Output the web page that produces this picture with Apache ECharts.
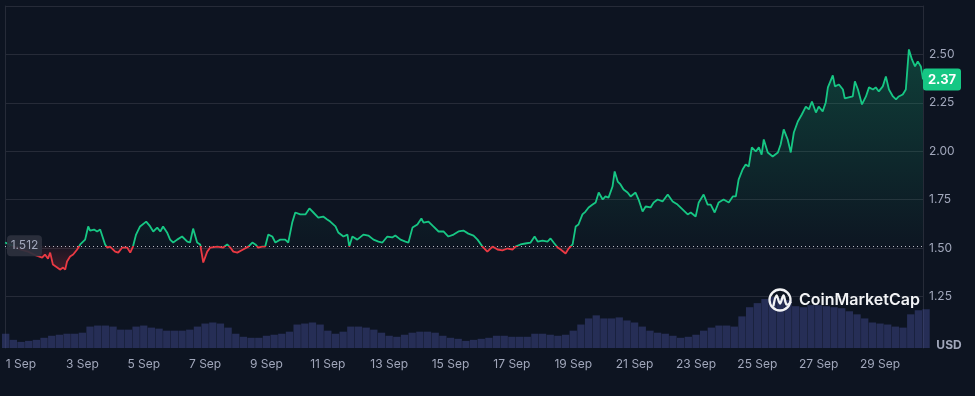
<!DOCTYPE html>
<html>
<head>
<meta charset="utf-8">
<script src="https://cdn.jsdelivr.net/npm/echarts@6/dist/echarts.min.js"></script>
<style>
html,body{margin:0;padding:0;background:#0d1421;}
#c{width:975px;height:396px;}
</style>
</head>
<body>
<div id="c"></div>
<script>
// ---- data (days since 1 Sep 00:00) ----
const priceDays = [
-0.52,-0.29,-0.03,0.23,0.49,0.69,0.78,0.88,0.95,1.04,
1.18,1.27,1.37,1.44,1.50,1.60,1.70,1.83,1.93,1.99,
2.09,2.19,2.25,2.38,2.48,2.58,2.64,2.74,2.81,2.90,
3.07,3.17,3.30,3.46,3.56,3.65,3.75,3.88,4.08,4.21,
4.31,4.44,4.54,4.63,4.76,4.86,4.96,5.09,5.25,5.42,
5.51,5.61,5.74,5.84,5.94,6.07,6.17,6.40,6.59,6.72,
6.82,6.92,7.05,7.24,7.41,7.54,7.64,7.73,7.86,7.96,
8.06,8.19,8.29,8.45,8.61,8.71,8.84,8.94,9.10,9.27,
9.40,9.53,9.69,9.85,9.98,10.08,10.25,10.34,10.51,10.64,
10.70,10.80,10.96,11.16,11.32,11.49,11.65,11.78,11.94,12.10,
12.20,12.37,12.53,12.63,12.76,12.92,13.05,13.12,13.28,13.44,
13.61,13.77,13.93,14.10,14.26,14.42,14.58,14.75,14.88,15.04,
15.20,15.37,15.53,15.69,15.86,16.02,16.12,16.28,16.44,16.61,
16.74,16.84,17.00,17.16,17.26,17.36,17.49,17.59,17.75,17.85,
17.98,18.08,18.17,18.30,18.40,18.50,18.63,18.73,18.83,18.96,
19.05,19.15,19.28,19.35,19.45,19.54,19.64,19.77,19.87,20.03,
20.13,20.26,20.36,20.52,20.62,20.75,20.91,21.08,21.24,21.40,
21.57,21.73,21.83,21.99,22.09,22.25,22.38,22.48,22.61,22.74,
22.90,23.07,23.20,23.30,23.39,23.52,23.62,23.72,23.82,23.95,
24.05,24.14,24.21,24.34,24.50,24.67,24.76,24.86,24.99,25.09,
25.19,25.32,25.45,25.58,25.68,25.78,25.91,26.00,26.13,26.23,
26.30,26.46,26.53,26.66,26.79,26.85,26.98,27.11,27.18,27.28,
27.41,27.54,27.64,27.77,27.86,27.96,28.09,28.19,28.29,28.42,
28.52,28.61,28.74,28.84,28.94,29.04,29.14,29.23,29.33,29.40
];
const priceValues = [
1.529,1.513,1.493,1.482,1.462,1.451,1.467,1.446,1.477,1.415,
1.400,1.389,1.400,1.389,1.431,1.457,1.467,1.493,1.519,1.529,
1.544,1.612,1.591,1.596,1.586,1.596,1.596,1.519,1.503,1.508,
1.482,1.477,1.503,1.503,1.477,1.508,1.570,1.612,1.637,1.612,
1.586,1.606,1.586,1.612,1.581,1.544,1.529,1.544,1.560,1.534,
1.529,1.601,1.529,1.519,1.426,1.482,1.503,1.508,1.503,1.519,
1.503,1.482,1.477,1.493,1.508,1.529,1.519,1.503,1.508,1.508,
1.570,1.560,1.529,1.544,1.544,1.529,1.632,1.684,1.674,1.674,
1.705,1.684,1.658,1.663,1.648,1.637,1.612,1.581,1.560,1.570,
1.508,1.560,1.544,1.570,1.565,1.544,1.534,1.529,1.560,1.555,
1.565,1.544,1.534,1.529,1.606,1.622,1.653,1.632,1.637,1.612,
1.586,1.586,1.560,1.570,1.586,1.591,1.575,1.565,1.544,1.508,
1.482,1.508,1.493,1.488,1.498,1.493,1.508,1.519,1.524,1.529,
1.560,1.534,1.539,1.534,1.550,1.529,1.503,1.493,1.472,1.498,
1.519,1.612,1.622,1.674,1.689,1.710,1.725,1.736,1.787,1.751,
1.767,1.761,1.818,1.896,1.844,1.829,1.803,1.787,1.767,1.787,
1.751,1.689,1.715,1.710,1.736,1.751,1.741,1.777,1.741,1.725,
1.699,1.674,1.684,1.663,1.736,1.777,1.725,1.725,1.684,1.736,
1.751,1.736,1.767,1.767,1.854,1.906,1.932,1.921,2.020,1.999,
2.020,1.983,2.061,1.994,1.973,1.994,2.035,2.113,2.061,1.994,
2.097,2.154,2.190,2.231,2.216,2.257,2.200,2.231,2.206,2.252,
2.330,2.392,2.335,2.345,2.319,2.273,2.278,2.283,2.361,2.319,
2.242,2.283,2.330,2.319,2.330,2.309,2.335,2.386,2.319,2.283,
2.268,2.283,2.293,2.319,2.526,2.474,2.438,2.464,2.438,2.371
];
const baselinePrice = 1.512;
// volume bars every 6 hours starting 31 Aug 12:00 (relative units)
const volumeStartDay = -0.5;
const volumeStepDay = 0.25;
const volumeValues = [
28,16,12,14,16,20,24,26,28,28,
30,42,44,44,42,36,36,42,44,40,
38,34,34,34,36,42,48,50,48,40,
28,22,20,20,24,26,28,32,46,48,
50,46,34,28,32,42,42,40,36,30,
24,22,26,30,32,32,30,24,20,18,
14,16,18,20,24,24,22,22,22,28,
28,26,24,26,34,46,58,64,58,58,
60,54,50,42,34,30,28,24,20,22,
26,34,40,44,44,42,62,80,88,96,
100,98,94,82,80,84,84,82,80,78,
72,66,58,50,48,46,42,40,66,74,
76
];
const xTickDays = [0,2,4,6,8,10,12,14,16,18,20,22,24,26,28];
const xTickLabels = ['1 Sep','3 Sep','5 Sep','7 Sep','9 Sep','11 Sep','13 Sep','15 Sep','17 Sep','19 Sep','21 Sep','23 Sep','25 Sep','27 Sep','29 Sep'];
const xMinDay = -0.522, xMaxDay = 29.40;
const yMin = 1.0, yMax = 2.75, yStep = 0.25;

// ---- build ----
const GREEN = '#16c784', RED = '#ea3943';
const GRID = '#262b38';
const TXT = '#a1a7bb';
const FONT = 'Inter, "Noto Sans", sans-serif';

const priceData = priceDays.map((d, i) => [d, priceValues[i]]);
const upData = priceData.map(([d, p]) => [d, Math.max(p, baselinePrice)]);
const downData = priceData.map(([d, p]) => [d, Math.min(p, baselinePrice)]);
const volumeData = volumeValues.map((v, i) => [volumeStartDay + i * volumeStepDay, v]);

const nSplit = Math.round((yMax - yMin) / yStep) + 1;
const splitColors = [];
for (let i = 0; i < nSplit; i++) splitColors.push(i === 0 ? 'rgba(0,0,0,0)' : GRID);

const chart = echarts.init(document.getElementById('c'), null, {renderer: 'canvas'});

const option = {
  animation: false,
  backgroundColor: '#0d1421',
  textStyle: {fontFamily: FONT},
  grid: [
    {left: 5, right: 52, top: 6, bottom: 51},
    {left: 5, right: 52, top: 297, bottom: 48}
  ],
  xAxis: [
    {gridIndex: 0, type: 'value', min: xMinDay, max: xMaxDay, show: false},
    {gridIndex: 1, type: 'value', min: xMinDay, max: xMaxDay,
      axisLine: {show: false}, axisTick: {show: false}, splitLine: {show: false},
      axisLabel: {
        customValues: xTickDays, color: TXT, fontSize: 12, margin: 10, fontFamily: FONT,
        formatter: v => { const k = xTickDays.indexOf(Math.round(v)); return k >= 0 ? xTickLabels[k] : ''; }
      }}
  ],
  yAxis: [
    {gridIndex: 0, type: 'value', position: 'right', min: yMin, max: yMax, interval: yStep,
      axisLine: {show: true, onZero: false, lineStyle: {color: GRID}},
      axisTick: {show: false},
      splitLine: {show: true, lineStyle: {color: splitColors, width: 1}},
      axisLabel: {color: TXT, fontSize: 12, margin: 6, fontFamily: FONT,
        formatter: v => (v > yMin + 0.01 && v < yMax - 0.01) ? v.toFixed(2) : ''}},
    {gridIndex: 0, type: 'value', position: 'left', min: yMin, max: yMax,
      axisLine: {show: true, onZero: false, lineStyle: {color: GRID}},
      axisTick: {show: false}, axisLabel: {show: false}, splitLine: {show: false}},
    {gridIndex: 1, type: 'value', position: 'left', min: 0, max: 100,
      axisLine: {show: true, onZero: false, lineStyle: {color: GRID}},
      axisTick: {show: false}, axisLabel: {show: false}, splitLine: {show: false}},
    {gridIndex: 1, type: 'value', position: 'right', min: 0, max: 100,
      axisLine: {show: true, onZero: false, lineStyle: {color: GRID}},
      axisTick: {show: false}, axisLabel: {show: false}, splitLine: {show: false}}
  ],
  visualMap: {
    type: 'piecewise', show: false, seriesIndex: 0, dimension: 1,
    pieces: [{gte: 0, lt: baselinePrice, color: RED}, {gte: baselinePrice, lte: 10, color: GREEN}]
  },
  series: [
    {
      name: 'price', type: 'line', xAxisIndex: 0, yAxisIndex: 0, data: priceData,
      symbol: 'none', showSymbol: false, z: 5,
      lineStyle: {width: 1.8},
      markLine: {
        silent: true, symbol: ['none', 'none'],
        label: {show: false},
        lineStyle: {type: [1, 3], color: 'rgba(225,228,236,0.8)', width: 1},
        data: [{yAxis: baselinePrice}]
      }
    },
    {
      name: 'up', type: 'line', xAxisIndex: 0, yAxisIndex: 0, data: upData,
      symbol: 'none', showSymbol: false, silent: true, z: 3,
      lineStyle: {width: 0, color: 'rgba(0,0,0,0)'},
      areaStyle: {origin: baselinePrice,
        color: new echarts.graphic.LinearGradient(0, 0, 0, 1, [
          {offset: 0, color: 'rgba(22,199,132,0.34)'},
          {offset: 1, color: 'rgba(22,199,132,0.02)'}
        ])}
    },
    {
      name: 'down', type: 'line', xAxisIndex: 0, yAxisIndex: 0, data: downData,
      symbol: 'none', showSymbol: false, silent: true, z: 3,
      lineStyle: {width: 0, color: 'rgba(0,0,0,0)'},
      areaStyle: {origin: baselinePrice,
        color: new echarts.graphic.LinearGradient(0, 0, 0, 1, [
          {offset: 0, color: 'rgba(234,57,67,0.08)'},
          {offset: 1, color: 'rgba(234,57,67,0.32)'}
        ])}
    },
    {
      name: 'volume', type: 'bar', xAxisIndex: 1, yAxisIndex: 2, data: volumeData,
      barWidth: 7.3, silent: true, z: 1,
      itemStyle: {color: 'rgba(68,78,150,0.45)'}
    }
  ]
};
chart.setOption(option);

// labels placed through the axis scales
const yLast = chart.convertToPixel({yAxisIndex: 0}, priceValues[priceValues.length - 1]);
const yBase = chart.convertToPixel({yAxisIndex: 0}, baselinePrice);
const xRight = chart.convertToPixel({xAxisIndex: 0}, xMaxDay);
const xLeft = chart.convertToPixel({xAxisIndex: 0}, xMinDay);
const yVolBase = chart.convertToPixel({yAxisIndex: 2}, 0);

chart.setOption({
  graphic: [
    {type: 'rect', z: 100, shape: {x: xLeft + 2, y: yBase - 10.5, width: 35, height: 21, r: 4},
      style: {fill: 'rgba(44,49,62,0.92)'}},
    {type: 'text', z: 101, x: xLeft + 19.5, y: yBase,
      style: {text: baselinePrice.toFixed(3), fill: TXT, font: '12px ' + FONT, align: 'center', verticalAlign: 'middle'}},
    {type: 'rect', z: 100, shape: {x: xRight, y: yLast - 11, width: 38, height: 22, r: 3},
      style: {fill: GREEN}},
    {type: 'text', z: 101, x: xRight + 19, y: yLast + 0.5,
      style: {text: priceValues[priceValues.length - 1].toFixed(2), fill: '#ffffff', font: 'bold 13px ' + FONT, align: 'center', verticalAlign: 'middle'}},
    {type: 'text', z: 101, x: xRight + 26, y: yVolBase - 3,
      style: {text: 'USD', fill: TXT, font: 'bold 12px ' + FONT, align: 'center', verticalAlign: 'middle'}},
    // watermark
    {type: 'circle', z: 102, shape: {cx: 780, cy: 300, r: 10.5},
      style: {fill: 'none', stroke: '#f2f3f5', lineWidth: 2.3}},
    {type: 'polyline', z: 102, shape: {points: [[773.5, 305.5], [776.5, 295.5], [780, 303.5], [783.5, 295.5], [786.5, 304.5], [790.5, 302.5]], smooth: 0.35},
      style: {fill: 'none', stroke: '#f2f3f5', lineWidth: 2.3, lineCap: 'round', lineJoin: 'round'}},
    {type: 'text', z: 102, x: 799, y: 300.5,
      style: {text: 'CoinMarketCap', fill: '#f2f3f5', font: '600 16px ' + FONT, align: 'left', verticalAlign: 'middle'}}
  ]
});
</script>
</body>
</html>
